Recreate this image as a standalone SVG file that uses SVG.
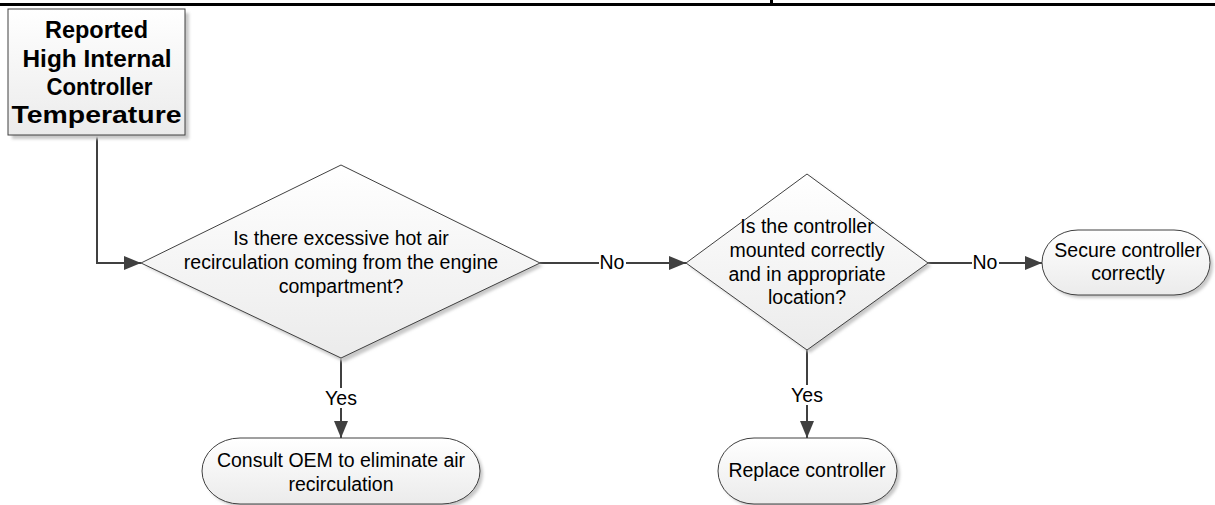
<svg xmlns="http://www.w3.org/2000/svg" width="1215" height="505" viewBox="0 0 1215 505">
<defs>
  <linearGradient id="fillG" x1="0" y1="0" x2="0" y2="1">
    <stop offset="0" stop-color="#ffffff"/>
    <stop offset="1" stop-color="#ebebeb"/>
  </linearGradient>
  <filter id="shadow" x="-10%" y="-10%" width="130%" height="130%">
    <feGaussianBlur stdDeviation="1.5"/>
  </filter>
  <marker id="arrow" markerUnits="userSpaceOnUse" markerWidth="18" markerHeight="16" refX="17" refY="8" orient="auto">
    <path d="M0,1 L17,8 L0,15 Z" fill="#404040"/>
  </marker>
</defs>
<style>
  .node { fill: url(#fillG); stroke: #404040; stroke-width: 1; }
  .shd { fill: #c8c8c8; filter: url(#shadow); }
  .t { font-family: "Liberation Sans", Arial, sans-serif; font-size: 19.5px; fill: #000; text-anchor: middle; }
  .title { font-family: "Liberation Sans", Arial, sans-serif; font-size: 23px; font-weight: bold; fill: #000; text-anchor: middle; }
  .conn { fill: none; stroke: #404040; stroke-width: 2; }
  .lblbg { fill: #ffffff; }
</style>
<rect x="0" y="3" width="1215" height="3" fill="#000"/>
<rect x="770" y="0" width="3" height="4" fill="#000"/>

<g id="connectors">
  <path class="conn" d="M97,135 L97,263 L141,263" marker-end="url(#arrow)"/>
  <path class="conn" d="M540,263 L686,263" marker-end="url(#arrow)"/>
  <path class="conn" d="M928,263 L1042,263" marker-end="url(#arrow)"/>
  <path class="conn" d="M341,358 L341,438" marker-end="url(#arrow)"/>
  <path class="conn" d="M807,350 L807,438" marker-end="url(#arrow)"/>
  <rect class="lblbg" x="599" y="254" width="27" height="18"/>
  <text class="t" x="612" y="269">No</text>
  <rect class="lblbg" x="972" y="254" width="27" height="18"/>
  <text class="t" x="985" y="269">No</text>
  <rect class="lblbg" x="324" y="388" width="34" height="20"/>
  <text class="t" x="341" y="405">Yes</text>
  <rect class="lblbg" x="790" y="385" width="34" height="20"/>
  <text class="t" x="807" y="402">Yes</text>
</g>

<g id="start">
  <rect class="shd" x="12" y="13" width="177" height="126"/>
  <rect class="node" x="8" y="9" width="177" height="126"/>
  <text class="title" x="96.5" y="38" textLength="103" lengthAdjust="spacingAndGlyphs">Reported</text>
  <text class="title" x="97" y="67" textLength="149" lengthAdjust="spacingAndGlyphs">High Internal</text>
  <text class="title" x="99.5" y="95" textLength="106" lengthAdjust="spacingAndGlyphs">Controller</text>
  <text class="title" x="96.5" y="123" textLength="170" lengthAdjust="spacingAndGlyphs">Temperature</text>
</g>

<g id="decision1">
  <polygon class="shd" points="344,168 543,266 344,362 145,266"/>
  <polygon class="node" points="341,165 540,263 341,358 141,263"/>
  <text class="t" x="341" y="245">Is there excessive hot air</text>
  <text class="t" x="341" y="269">recirculation coming from the engine</text>
  <text class="t" x="341" y="293">compartment?</text>
</g>

<g id="decision2">
  <polygon class="shd" points="810,177 931,266 810,353 689,266"/>
  <polygon class="node" points="807,174 928,263 807,350 686,263"/>
  <text class="t" x="807" y="233">Is the controller</text>
  <text class="t" x="807" y="257">mounted correctly</text>
  <text class="t" x="807" y="281">and in appropriate</text>
  <text class="t" x="807" y="304">location?</text>
</g>

<g id="secure">
  <rect class="shd" x="1045" y="233" width="168" height="65" rx="36" ry="32.5"/>
  <rect class="node" x="1042" y="230" width="168" height="65" rx="36" ry="32.5"/>
  <text class="t" x="1128" y="257">Secure controller</text>
  <text class="t" x="1128" y="280">correctly</text>
</g>

<g id="consult">
  <rect class="shd" x="205" y="441" width="278" height="66" rx="38" ry="33"/>
  <rect class="node" x="202" y="438" width="278" height="66" rx="38" ry="33"/>
  <text class="t" x="341" y="467">Consult OEM to eliminate air</text>
  <text class="t" x="341" y="491">recirculation</text>
</g>

<g id="replace">
  <rect class="shd" x="721" y="441" width="179" height="66" rx="36" ry="33"/>
  <rect class="node" x="718" y="438" width="179" height="66" rx="36" ry="33"/>
  <text class="t" x="807" y="477">Replace controller</text>
</g>
</svg>
